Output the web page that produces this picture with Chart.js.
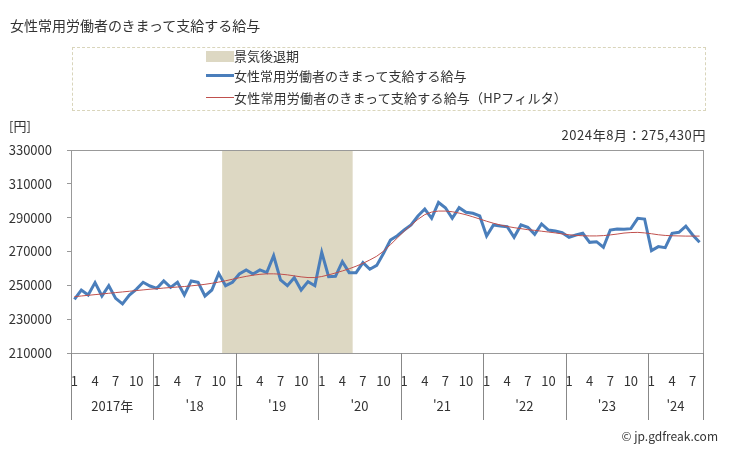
<!DOCTYPE html>
<html lang="ja">
<head>
<meta charset="utf-8">
<script src="https://cdn.jsdelivr.net/npm/chart.js@4.4.1/dist/chart.umd.min.js"></script>
<style>
  body { margin: 0; width: 729px; height: 451px; position: relative; background: #fff; overflow: hidden;
         font-family: "Noto Sans CJK JP", "Noto Sans", sans-serif; color: #333; }
  #chart { position: absolute; left: 0; top: 0; }
  .txt { position: absolute; white-space: nowrap; font-size: 13px; line-height: 16px; }
  .legend { position: absolute; left: 72px; top: 47px; width: 632px; height: 62px; border: 1px dashed #d9d5bb; }
  .sw { position: absolute; left: 133px; width: 28px; }
  .lt { position: absolute; left: 161px; font-size: 13px; line-height: 16px; white-space: nowrap; }
</style>
</head>
<body>
<canvas id="chart" width="729" height="451"></canvas>
<div class="txt" style="left:10px; top:16px; font-size:14px; line-height:18px;">女性常用労働者のきまって支給する給与</div>
<div class="legend">
  <div class="sw" style="top:3px; height:11px; background:#ddd8c3;"></div>
  <div class="lt" style="top:0px;">景気後退期</div>
  <div class="sw" style="top:26px; height:3px; background:#4a7ebb;"></div>
  <div class="lt" style="top:20px;">女性常用労働者のきまって支給する給与</div>
  <div class="sw" style="top:49px; height:1px; background:#c0504d;"></div>
  <div class="lt" style="top:42px; letter-spacing:0.2px;">女性常用労働者のきまって支給する給与（HPフィルタ）</div>
</div>
<div class="txt" style="left:9px; top:118px;">[円]</div>
<div class="txt" style="right:23px; top:127px; letter-spacing:0.6px;">2024年8月：275,430円</div>
<div class="txt" style="right:11px; top:428px; font-size:12px;">© jp.gdfreak.com</div>
<script>
// data
const years = [2017, 2018, 2019, 2020, 2021, 2022, 2023, 2024];
const yearLabels = ['2017年', "'18", "'19", "'20", "'21", "'22", "'23", "'24"];
const monthsInYear = [12, 12, 12, 12, 12, 12, 12, 8];
const shownMonths = [1, 4, 7, 10];

const wage = [
  241750, 247250, 244300, 251600, 243700, 249800, 242300, 239000, 244300, 247650, 251800, 249600,
  248200, 252600, 248800, 251800, 244300, 252600, 251800, 243700, 247250, 257100, 249800, 251800,
  256700, 259100, 256700, 259100, 257500, 267500, 253200, 249800, 254500, 247250, 252200, 249800,
  269500, 255100, 255300, 264000, 257500, 257500, 263400, 259500, 261800, 268900, 276800, 279300,
  282700, 285700, 291000, 295100, 289600, 299000, 295900, 289600, 295900, 293200, 292600, 291000,
  279200, 285700, 285100, 284700, 278400, 285700, 284300, 280100, 286300, 282700, 282100, 281100,
  278400, 279750, 280750, 275400, 275800, 272500, 282700, 283300, 283100, 283500, 289600, 289200,
  270500, 272900, 272250, 280750, 281350, 285000, 279750, 275430
];

const wageHP = [
  243300, 243700, 244100, 244500, 244900, 245300, 245700, 246100, 246500, 246900, 247300, 247700,
  248000, 248400, 248700, 249000, 249300, 249700, 250100, 250600, 251200, 251900, 252700, 253600,
  254500, 255300, 256000, 256500, 256800, 256800, 256600, 256200, 255600, 255000, 254600, 254600,
  255200, 256200, 257300, 258500, 259800, 261300, 263000, 265000, 267200, 270200, 274000, 278000,
  282000, 285500, 289000, 291800, 293300, 293900, 293900, 293500, 292700, 291700, 290500, 289200,
  287900, 286700, 285700, 284800, 284100, 283500, 282900, 282500, 282000, 281500, 281000, 280400,
  279900, 279500, 279300, 279200, 279200, 279400, 279800, 280300, 280900, 281200, 281300, 281000,
  280500, 279900, 279500, 279300, 279200, 279100, 279100, 279100
];

// recession: 2018-11 .. 2020-05 (category indices)
const recessionStart = 22;
const recessionEnd = 40;

const labels = [];
years.forEach((y, k) => {
  for (let m = 1; m <= monthsInYear[k]; m++) labels.push(String(m));
});

const framePlugin = {
  id: 'frame',
  beforeDatasetsDraw(chart) {
    const { ctx, chartArea, scales: { x } } = chart;
    const w = (chartArea.right - chartArea.left) / labels.length;
    const x0 = x.getPixelForValue(recessionStart) - w / 2;
    const x1 = x.getPixelForValue(recessionEnd) + w / 2;
    ctx.save();
    ctx.fillStyle = '#ddd8c3';
    ctx.fillRect(x0, chartArea.top, x1 - x0, chartArea.bottom - chartArea.top);
    ctx.restore();
  },
  afterDraw(chart) {
    const { ctx, chartArea, scales: { x } } = chart;
    const w = (chartArea.right - chartArea.left) / labels.length;
    ctx.save();
    ctx.strokeStyle = '#999';
    ctx.lineWidth = 1;
    ctx.strokeRect(Math.round(chartArea.left) + 0.5, Math.round(chartArea.top) + 0.5,
      Math.round(chartArea.right - chartArea.left), Math.round(chartArea.bottom - chartArea.top));

    // year separators and labels
    ctx.strokeStyle = '#888';
    ctx.fillStyle = '#333';
    ctx.font = '13px "Noto Sans CJK JP", "Noto Sans", sans-serif';
    ctx.textAlign = 'center';
    ctx.textBaseline = 'middle';
    let idx = 0;
    years.forEach((y, k) => {
      const left = x.getPixelForValue(idx) - w / 2;
      const right = x.getPixelForValue(idx + monthsInYear[k] - 1) + w / 2;
      const lx = Math.round(left) + 0.5;
      ctx.beginPath();
      ctx.moveTo(lx, chartArea.bottom);
      ctx.lineTo(lx, 420);
      ctx.stroke();
      ctx.fillText(yearLabels[k], (left + right) / 2, 406);
      idx += monthsInYear[k];
    });
    const rx = Math.round(chartArea.right) + 0.5;
    ctx.beginPath();
    ctx.moveTo(rx, chartArea.bottom);
    ctx.lineTo(rx, 420);
    ctx.stroke();
    ctx.restore();
  }
};

new Chart(document.getElementById('chart'), {
  type: 'line',
  data: {
    labels: labels,
    datasets: [
      {
        label: '女性常用労働者のきまって支給する給与（HPフィルタ）',
        data: wageHP,
        borderColor: '#c0504d',
        borderWidth: 1,
        pointRadius: 0,
        order: 0
      },
      {
        label: '女性常用労働者のきまって支給する給与',
        data: wage,
        borderColor: '#4a7ebb',
        borderWidth: 3,
        pointRadius: 0,
        order: 1
      }
    ]
  },
  options: {
    responsive: false,
    animation: false,
    devicePixelRatio: 1,
    layout: { padding: { top: 150, right: 26, left: 0, bottom: 0 } },
    plugins: { legend: { display: false }, tooltip: { enabled: false } },
    scales: {
      x: {
        offset: true,
        grid: { display: false },
        border: { display: true, color: '#999' },
        ticks: {
          autoSkip: false,
          maxRotation: 0,
          minRotation: 0,
          padding: 12,
          color: '#333',
          font: { family: '"Noto Sans CJK JP", "Noto Sans", sans-serif', size: 13 },
          callback: function (value) {
            const m = Number(labels[value]);
            return shownMonths.includes(m) ? String(m) : '';
          }
        },
        afterFit(scale) { scale.height = 98; }
      },
      y: {
        min: 210000,
        max: 330000,
        grid: { drawOnChartArea: false, drawTicks: true, tickLength: 4, color: '#999' },
        border: { display: true, color: '#999' },
        ticks: {
          stepSize: 20000,
          padding: 15,
          color: '#333',
          font: { family: '"Noto Sans CJK JP", "Noto Sans", sans-serif', size: 13 },
          callback: v => String(v)
        },
        afterFit(scale) { scale.width = 71; }
      }
    }
  },
  plugins: [framePlugin]
});
</script>
</body>
</html>
